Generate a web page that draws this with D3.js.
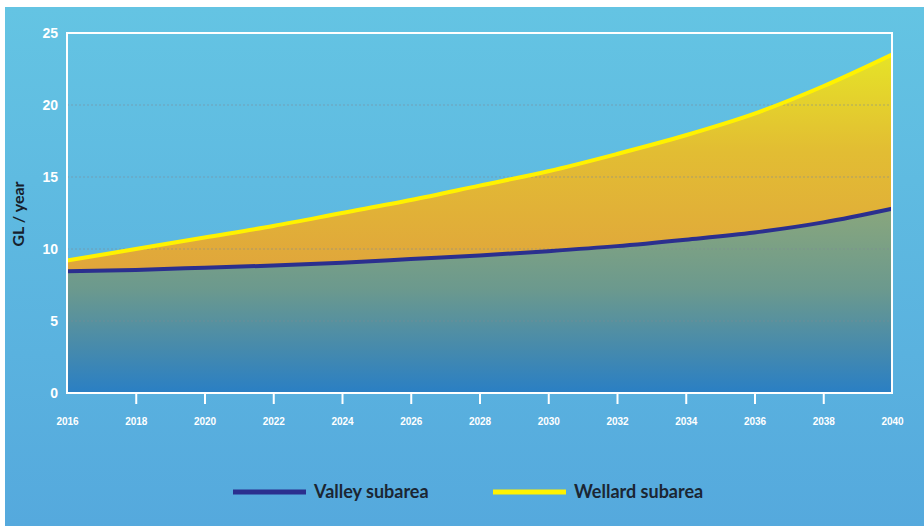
<!DOCTYPE html>
<html>
<head>
<meta charset="utf-8">
<script src="https://cdn.jsdelivr.net/npm/d3@7"></script>
<style>
  html, body { margin: 0; padding: 0; background: #fff; }
  svg { display: block; font-family: Lato, "DejaVu Sans", sans-serif; }
</style>
</head>
<body>
<div id="chart"></div>
<script>
// values, GL / year
const years = [2016, 2018, 2020, 2022, 2024, 2026, 2028, 2030, 2032, 2034, 2036, 2038, 2040];
const valley = [8.45, 8.55, 8.7, 8.85, 9.05, 9.3, 9.55, 9.85, 10.2, 10.65, 11.15, 11.85, 12.8];
const wellard = [9.2, 10.0, 10.8, 11.6, 12.5, 13.4, 14.4, 15.4, 16.6, 17.9, 19.4, 21.3, 23.5];
const yTicks = [0, 5, 10, 15, 20, 25];
const gridTicks = [5, 10, 15, 20];
const seriesNames = ["Valley subarea", "Wellard subarea"];

var width = 924,
    height = 526,
    margin = { top: 33, right: 32, bottom: 133, left: 67 };

var svg = d3.select("#chart").append("svg")
    .attr("width", width)
    .attr("height", height);

var defs = svg.append("defs");

var bg = defs.append("linearGradient").attr("id", "bg")
    .attr("x1", 0).attr("y1", 0).attr("x2", 0).attr("y2", 1);
bg.append("stop").attr("offset", "0%").attr("stop-color", "#64c4e3");
bg.append("stop").attr("offset", "100%").attr("stop-color", "#55a9dd");

var x = d3.scaleLinear()
    .domain([2016, 2040])
    .range([margin.left, width - margin.right]);

var y = d3.scaleLinear()
    .domain([0, 25])
    .range([height - margin.bottom, margin.top]);

// upper band: yellow at the top, orange lower down
var upperGrad = defs.append("linearGradient").attr("id", "upper")
    .attr("gradientUnits", "userSpaceOnUse")
    .attr("x1", 0).attr("x2", 0).attr("y1", y(24)).attr("y2", y(8));
upperGrad.append("stop").attr("offset", "0%").attr("stop-color", "#e6e626");
upperGrad.append("stop").attr("offset", "45%").attr("stop-color", "#e2bd33");
upperGrad.append("stop").attr("offset", "100%").attr("stop-color", "#e0a43c");

// lower band: greyish green fading into blue
var lowerGrad = defs.append("linearGradient").attr("id", "lower")
    .attr("gradientUnits", "userSpaceOnUse")
    .attr("x1", 0).attr("x2", 0).attr("y1", y(13)).attr("y2", y(0));
lowerGrad.append("stop").attr("offset", "0%").attr("stop-color", "#8aa77c");
lowerGrad.append("stop").attr("offset", "45%").attr("stop-color", "#6b998e");
lowerGrad.append("stop").attr("offset", "100%").attr("stop-color", "#2a7fc4");

svg.append("rect")
    .attr("x", 5).attr("y", 7)
    .attr("width", width - 5).attr("height", height - 7)
    .attr("fill", "url(#bg)");

var rows = years.map((yr, i) => ({ year: yr, valley: valley[i], wellard: wellard[i] }));

var curve = d3.curveCatmullRom;

var upperArea = d3.area()
    .x(d => x(d.year))
    .y0(y(0))
    .y1(d => y(d.wellard))
    .curve(curve);

var lowerArea = d3.area()
    .x(d => x(d.year))
    .y0(y(0))
    .y1(d => y(d.valley))
    .curve(curve);

svg.append("path").datum(rows).attr("d", upperArea).attr("fill", "url(#upper)");
svg.append("path").datum(rows).attr("d", lowerArea).attr("fill", "url(#lower)");

// dotted grid
svg.selectAll(".grid")
    .data(gridTicks)
    .enter().append("line")
    .attr("class", "grid")
    .attr("x1", x(2016)).attr("x2", x(2040))
    .attr("y1", d => y(d)).attr("y2", d => y(d))
    .attr("stroke", "#7d8c96")
    .attr("stroke-opacity", 0.55)
    .attr("stroke-width", 1)
    .attr("stroke-dasharray", "2,2");

var lineValley = d3.line().x(d => x(d.year)).y(d => y(d.valley)).curve(curve);
var lineWellard = d3.line().x(d => x(d.year)).y(d => y(d.wellard)).curve(curve);

svg.append("path").datum(rows)
    .attr("d", lineWellard)
    .attr("fill", "none")
    .attr("stroke", "#fff200")
    .attr("stroke-width", 4);

svg.append("path").datum(rows)
    .attr("d", lineValley)
    .attr("fill", "none")
    .attr("stroke", "#2b2f8e")
    .attr("stroke-width", 4);

// white frame
svg.append("rect")
    .attr("x", x(2016)).attr("y", y(25))
    .attr("width", x(2040) - x(2016))
    .attr("height", y(0) - y(25))
    .attr("fill", "none")
    .attr("stroke", "#fff")
    .attr("stroke-width", 2);

// x axis
var xAxis = d3.axisBottom(x)
    .tickValues(years)
    .tickFormat(d3.format("d"))
    .tickSize(11)
    .tickPadding(14);

var gx = svg.append("g")
    .attr("transform", "translate(0," + y(0) + ")")
    .call(xAxis);
gx.select(".domain").remove();
gx.selectAll(".tick line")
    .attr("stroke", "#fff")
    .attr("stroke-width", 2)
    .style("display", d => (d === 2016 || d === 2040) ? "none" : null);
gx.selectAll(".tick text")
    .attr("fill", "#fff")
    .style("font-size", "10px")
    .style("font-weight", "bold");

// y axis
var yAxis = d3.axisLeft(y)
    .tickValues(yTicks)
    .tickSize(0)
    .tickPadding(9);

var gy = svg.append("g")
    .attr("transform", "translate(" + x(2016) + ",0)")
    .call(yAxis);
gy.select(".domain").remove();
gy.selectAll(".tick text")
    .attr("fill", "#fff")
    .style("font-size", "14px")
    .style("font-weight", "bold");

svg.append("text")
    .attr("transform", "translate(24," + 214 + ") rotate(-90)")
    .attr("text-anchor", "middle")
    .attr("fill", "#16202c")
    .style("font-size", "16px")
    .style("font-weight", "bold")
    .text("GL / year");

// legend
var legendColors = ["#2b2f8e", "#fff200"];
var legendX = [233, 493];

var legend = svg.selectAll(".legend")
    .data(seriesNames)
    .enter().append("g")
    .attr("class", "legend")
    .attr("transform", (d, i) => "translate(" + legendX[i] + ",492)");

legend.append("line")
    .attr("x1", 0).attr("x2", 73)
    .attr("y1", 0).attr("y2", 0)
    .attr("stroke", (d, i) => legendColors[i])
    .attr("stroke-width", 5);

legend.append("text")
    .attr("x", 81)
    .attr("y", 0)
    .attr("dy", ".35em")
    .attr("fill", "#1b2633")
    .style("font-size", "18px")
    .style("font-weight", "bold")
    .text(d => d);
</script>
</body>
</html>
